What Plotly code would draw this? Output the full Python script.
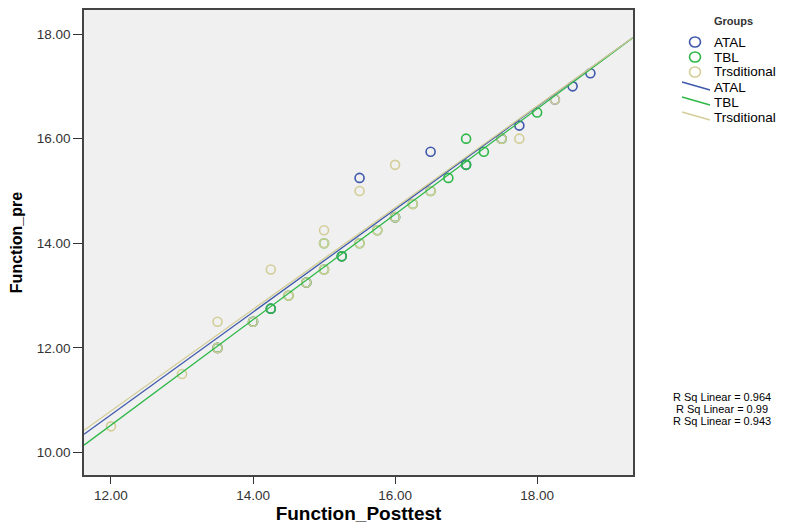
import numpy as np
import plotly.graph_objects as go

# ---- data ----
atal_x = [13.5, 14.0, 14.25, 14.75, 15.25, 15.5, 16.0, 16.5, 17.0, 17.5, 17.75, 18.25, 18.5, 18.75]
atal_y = [12.0, 12.5, 12.75, 13.25, 13.75, 15.25, 14.5, 15.75, 15.5, 16.0, 16.25, 16.75, 17.0, 17.25]

tbl_x = [13.5, 14.0, 14.25, 14.5, 14.75, 15.0, 15.0, 15.25, 15.5, 15.75, 16.0, 16.25, 16.5, 16.75, 17.0, 17.0, 17.25, 17.5, 18.0]
tbl_y = [12.0, 12.5, 12.75, 13.0, 13.25, 13.5, 14.0, 13.75, 14.0, 14.25, 14.5, 14.75, 15.0, 15.25, 15.5, 16.0, 15.75, 16.0, 16.5]

trad_x = [12.0, 13.0, 13.5, 13.5, 14.0, 14.25, 14.5, 14.75, 15.0, 15.0, 15.0, 15.5, 15.5, 15.75, 16.0, 16.0, 16.25, 16.5, 17.5, 17.75, 18.25]
trad_y = [10.5, 11.5, 12.5, 12.0, 12.5, 13.5, 13.0, 13.25, 14.25, 14.0, 13.5, 15.0, 14.0, 14.25, 15.5, 14.5, 14.75, 15.0, 16.0, 16.0, 16.75]

group_names = ["ATAL", "TBL", "Trsditional"]
legend_title = "Groups"
r2_labels = ["R Sq Linear = 0.964", "R Sq Linear = 0.99", "R Sq Linear = 0.943"]
x_ticks = [12, 14, 16, 18]
y_ticks = [10, 12, 14, 16, 18]

colors = ["#3E58AC", "#2EB848", "#D3CE97"]
X_RANGE = [11.62, 19.35]
Y_RANGE = [9.57, 18.46]

groups = [(atal_x, atal_y), (tbl_x, tbl_y), (trad_x, trad_y)]

# page body has an 8px margin -> work in screen pixels and convert
OFF = 8
W, H = 803 - OFF, 530 - OFF
L, T = 84 - OFF, 10 - OFF
R = W - (633 - OFF)
B = H - (475 - OFF)
PW, PH = W - L - R, H - T - B


def px(sx):
    return (sx - OFF - L) / PW


def py(sy):
    return (H - B - (sy - OFF)) / PH


fig = go.Figure()
for (gx, gy), name, c in zip(groups, group_names, colors):
    fig.add_trace(go.Scatter(
        x=gx, y=gy, mode="markers", name=name,
        marker=dict(symbol="circle-open", size=9, color=c, line=dict(width=1.6, color=c)),
    ))

xs = np.array(X_RANGE)
for (gx, gy), name, c in zip(groups, group_names, colors):
    b, a = np.polyfit(gx, gy, 1)
    fig.add_trace(go.Scatter(
        x=xs, y=a + b * xs, mode="lines", name=name,
        line=dict(color=c, width=1.3),
    ))

FONT = "Liberation Sans, Arial"
tickfont = dict(family=FONT, size=13.5, color="#333333")
fig.update_layout(
    width=W, height=H,
    margin=dict(l=L, r=R, t=T, b=B, autoexpand=False),
    paper_bgcolor="white",
    plot_bgcolor="#F0F0F0",
    font=dict(family=FONT, color="#000000"),
    showlegend=False,
)
fig.update_xaxes(
    range=X_RANGE, tickvals=x_ticks, ticktext=[f"{v:.2f}" for v in x_ticks],
    ticks="outside", ticklen=7, tickcolor="#333333", tickfont=tickfont,
    showgrid=False, zeroline=False, automargin=False,
    showline=True, linecolor="#444444", linewidth=1.5, mirror=True,
    title=dict(text="<b>Function_Posttest</b>", font=dict(size=19, color="#000000"), standoff=4),
)
fig.update_yaxes(
    range=Y_RANGE, tickvals=y_ticks, ticktext=[f"{v:.2f}" for v in y_ticks],
    ticks="outside", ticklen=9, tickcolor="#333333", tickfont=tickfont,
    showgrid=False, zeroline=False, automargin=False,
    showline=True, linecolor="#444444", linewidth=1.5, mirror=True,
    title=dict(text="<b>Function_pre</b>", font=dict(size=16, color="#000000"), standoff=10),
)

# ---- custom legend (SPSS style) ----
fig.add_annotation(
    xref="paper", yref="paper", x=px(712), y=py(21), text=f"<b>{legend_title}</b>",
    showarrow=False, xanchor="left", yanchor="middle",
    font=dict(family=FONT, size=11, color="#333333"),
)
marker_rows = [42, 57, 72]
line_rows = [87, 102, 117]
for i, (name, c) in enumerate(zip(group_names, colors)):
    cy = marker_rows[i]
    fig.add_shape(
        type="circle", xref="paper", yref="paper",
        x0=px(689.5), x1=px(700.5), y0=py(cy + 5), y1=py(cy - 5),
        line=dict(color=c, width=1.6), fillcolor="rgba(0,0,0,0)",
    )
    fig.add_annotation(
        xref="paper", yref="paper", x=px(712), y=py(cy), text=name,
        showarrow=False, xanchor="left", yanchor="middle",
        font=dict(family=FONT, size=13.5, color="#000000"),
    )
    ly = line_rows[i]
    fig.add_shape(
        type="line", xref="paper", yref="paper",
        x0=px(682), x1=px(710), y0=py(ly - 5), y1=py(ly + 3),
        line=dict(color=c, width=1.5),
    )
    fig.add_annotation(
        xref="paper", yref="paper", x=px(712), y=py(ly), text=name,
        showarrow=False, xanchor="left", yanchor="middle",
        font=dict(family=FONT, size=13.5, color="#000000"),
    )

for i, t in enumerate(r2_labels):
    fig.add_annotation(
        xref="paper", yref="paper", x=px(722), y=py(397 + 12 * i),
        text=t, showarrow=False, xanchor="center", yanchor="middle",
        font=dict(family=FONT, size=11, color="#000000"),
    )

fig.write_html("out.html")
